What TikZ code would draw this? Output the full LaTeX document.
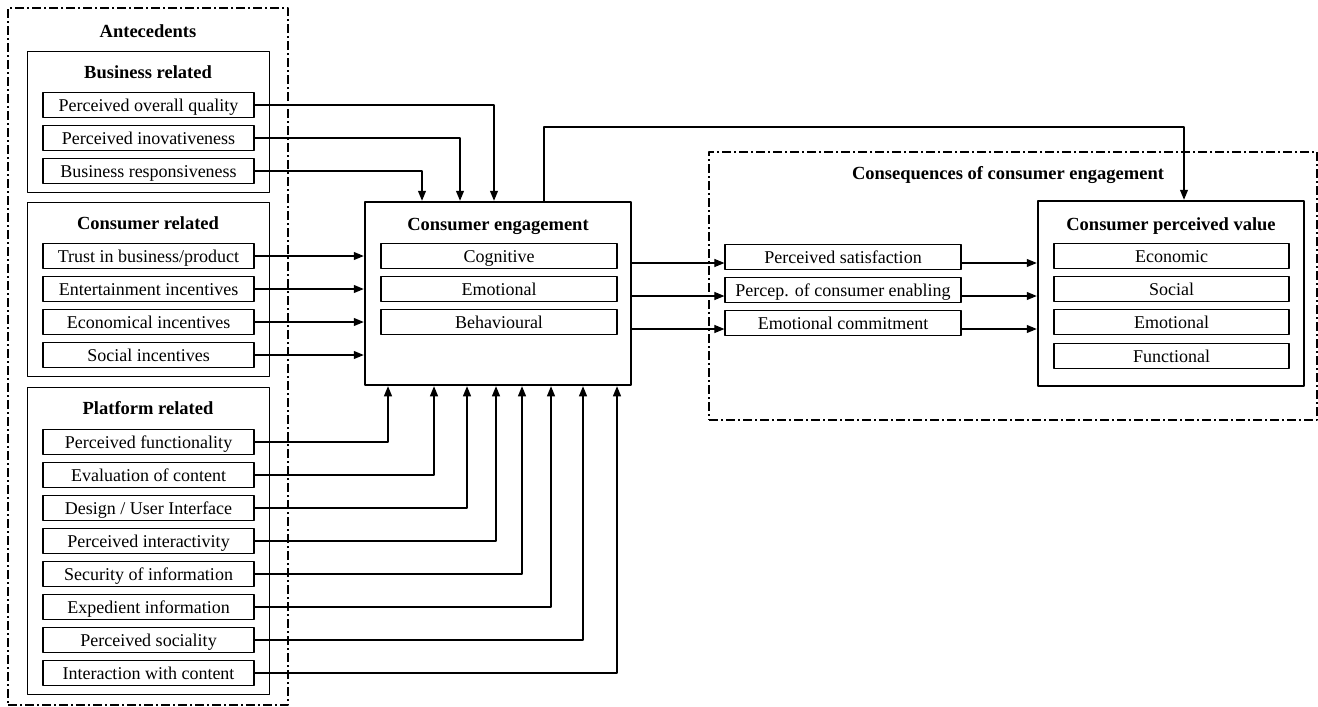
\documentclass[tikz,border=0pt]{standalone}
\usepackage{fontspec}
\setmainfont{Liberation Serif}
\usetikzlibrary{arrows.meta}

\begin{document}
\begin{tikzpicture}[x=1pt, y=-1pt, line join=round,
	item/.style={draw, line width=1.2pt, minimum width=211pt, minimum height=25pt, inner sep=0pt, text height=13pt, text depth=0pt, font=\fontsize{18}{20}\selectfont},
	subitem/.style={item, minimum width=236pt},
	group/.style={draw, line width=1pt, minimum width=242pt, inner sep=0pt},
	mainbox/.style={draw, line width=2.5pt, minimum width=266pt, inner sep=0pt},
	frame/.style={draw, line width=2pt, dash pattern=on 9pt off 3pt on 2pt off 3pt, inner sep=0pt},
	title/.style={font=\fontsize{18.5}{20}\selectfont\bfseries, inner sep=0pt, text height=13pt, text depth=0pt},
	arr/.style={line width=1.1pt, -{Triangle[length=10pt, width=8pt]}}]
				\useasboundingbox (0,0) rectangle (1318,707);
				% outer frames
				\node[frame, minimum width=280pt, minimum height=697pt] (ante) at (148,356.5) {};
				\node[title] (antet) at (148,31) {Antecedents};
				\node[frame, minimum width=608pt, minimum height=268pt] (conseq) at (1013,286) {};
				\node[title] (conseqt) at (1008,173) {Consequences of consumer engagement};
				% antecedent groups
				\node[group, minimum height=141pt] (business) at (148,121.5) {};
				\node[title] (businesst) at (148,72) {Business related};
				\node[item] (quality) at (148.5,105) {Perceived overall quality};
				\node[item] (innov) at (148.5,138) {Perceived inovativeness};
				\node[item] (respons) at (148.5,171) {Business responsiveness};
				\node[group, minimum height=174pt] (consumer) at (148,289) {};
				\node[title] (consumert) at (148,223) {Consumer related};
				\node[item] (trust) at (148.5,256) {Trust in business/product};
				\node[item] (entert) at (148.5,289) {Entertainment incentives};
				\node[item] (econ) at (148.5,322) {Economical incentives};
				\node[item] (social) at (148.5,355) {Social incentives};
				\node[group, minimum height=307pt] (platform) at (148,540.5) {};
				\node[title] (platformt) at (148,408) {Platform related};
				\node[item] (func) at (148.5,442) {Perceived functionality};
				\node[item] (content) at (148.5,475) {Evaluation of content};
				\node[item] (design) at (148.5,508) {Design / User Interface};
				\node[item] (interact) at (148.5,541) {Perceived interactivity};
				\node[item] (security) at (148.5,574) {Security of information};
				\node[item] (expedient) at (148.5,607) {Expedient information};
				\node[item] (sociality) at (148.5,640) {Perceived sociality};
				\node[item] (withcont) at (148.5,673) {Interaction with content};
				% consumer engagement
				\node[mainbox, minimum height=183pt] (ce) at (498,293.5) {};
				\node[title] (cet) at (498,224) {Consumer engagement};
				\node[subitem] (cognitive) at (499,256) {Cognitive};
				\node[subitem] (emotional) at (499,289) {Emotional};
				\node[subitem] (behav) at (499,322) {Behavioural};
				% consequences
				\node[subitem] (satisf) at (843,257) {Perceived satisfaction};
				\node[subitem] (enabling) at (843,290) {Percep. of consumer enabling};
				\node[subitem] (commit) at (843,323) {Emotional commitment};
				\node[mainbox, minimum height=185pt] (cpv) at (1171,293.5) {};
				\node[title] (cpvt) at (1171,224) {Consumer perceived value};
				\node[subitem, minimum width=235pt] (economic) at (1171.5,256) {Economic};
				\node[subitem, minimum width=235pt] (vsocial) at (1171.5,289) {Social};
				\node[subitem, minimum width=235pt] (vemot) at (1171.5,322) {Emotional};
				\node[subitem, minimum width=235pt] (functional) at (1171.5,356) {Functional};
				% connectors
				\draw[arr] (quality.east) -| ([xshift=-4pt]ce.north);
				\draw[arr] (innov.east) -| ([xshift=-38pt]ce.north);
				\draw[arr] (respons.east) -| ([xshift=-76pt]ce.north);
				\foreach \n in {trust, entert, econ, social}
					\draw[arr] (\n.east) -- (\n.east -| ce.west);
				\foreach \n/\dx in {func/-110, content/-64, design/-31, interact/-2, security/24, expedient/53, sociality/85, withcont/119}
					\draw[arr] (\n.east) -| ([xshift=\dx pt]ce.south);
				\foreach \n in {satisf, enabling, commit} {
					\draw[arr] ([yshift=-6pt]\n.west -| ce.east) -- ([yshift=-6pt]\n.west);
					\draw[arr] ([yshift=-6pt]\n.east) -- ([yshift=-6pt]\n.east -| cpv.west);
				}
				\coordinate (bend) at (1184,127);
				\draw[arr] ([xshift=46pt]ce.north) |- (bend) -- ([xshift=13pt]cpv.north);
\end{tikzpicture}
\end{document}
